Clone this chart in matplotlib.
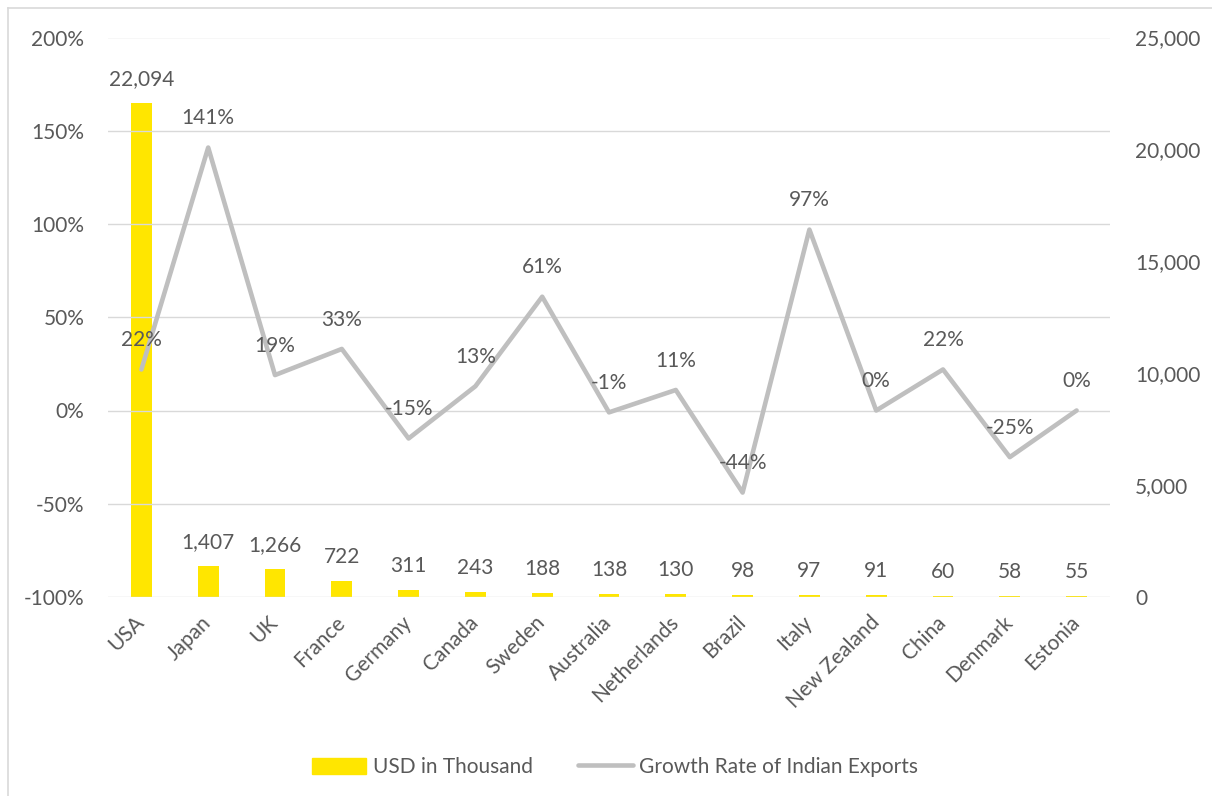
import matplotlib
matplotlib.use("Agg")
import matplotlib.pyplot as plt
from matplotlib.lines import Line2D
from matplotlib.ticker import FuncFormatter, MultipleLocator

plt.rcParams['font.family'] = ['Lato', 'DejaVu Sans']

countries = ["USA", "Japan", "UK", "France", "Germany", "Canada", "Sweden",
             "Australia", "Netherlands", "Brazil", "Italy", "New Zealand",
             "China", "Denmark", "Estonia"]
usd_thousand = [22094, 1407, 1266, 722, 311, 243, 188, 138, 130, 98, 97, 91,
                60, 58, 55]
growth_pct = [22, 141, 19, 33, -15, 13, 61, -1, 11, -44, 97, 0, 22, -25, 0]

TEXT = "#595959"
BAR = "#FFE600"
LINE = "#BFBFBF"
GRID = "#D9D9D9"
FS = 15

fig = plt.figure(figsize=(12.12, 7.96), dpi=100)
W, H = 1212, 796
ax = fig.add_axes([108 / W, 1 - 597 / H, (1110 - 108) / W, (597 - 37.5) / H])
ax2 = ax.twinx()

x = list(range(len(countries)))

# Growth rate line on the left (percentage) axis
ax.plot(x, growth_pct, color=LINE, lw=3.3, solid_joinstyle='round',
        solid_capstyle='round', zorder=3)
ax.set_ylim(-100, 200)
ax.yaxis.set_major_locator(MultipleLocator(50))
ax.yaxis.set_major_formatter(FuncFormatter(lambda v, p: f"{v:.0f}%"))
ax.set_xlim(-0.5, len(countries) - 0.5)
ax.grid(axis='y', color=GRID, lw=1.0)
ax.set_axisbelow(True)

# Export value bars on the right (USD thousand) axis
ax2.bar(x, usd_thousand, width=0.31, color=BAR, zorder=2)
ax2.set_ylim(0, 25000)
ax2.yaxis.set_major_locator(MultipleLocator(5000))
ax2.yaxis.set_major_formatter(FuncFormatter(lambda v, p: f"{v:,.0f}"))

# keep the line drawn above the bars
ax.set_zorder(ax2.get_zorder() + 1)
ax.patch.set_visible(False)

for a in (ax, ax2):
    for s in a.spines.values():
        s.set_visible(False)
    a.tick_params(length=0, labelsize=FS, labelcolor=TEXT)
ax.tick_params(axis='y', pad=17)
ax2.tick_params(axis='y', pad=18)

ax.set_xticks(x)
ax.set_xticklabels(countries, rotation=45, ha='right', va='center',
                   rotation_mode='anchor')
ax.tick_params(axis='x', pad=16)

for xi, v in zip(x, usd_thousand):
    ax2.annotate(f"{v:,}", (xi, v), xytext=(0, 10), textcoords='offset points',
                 ha='center', va='bottom', fontsize=FS, color=TEXT)
for xi, g in zip(x, growth_pct):
    ax.annotate(f"{g}%", (xi, g), xytext=(0, 14), textcoords='offset points',
                ha='center', va='bottom', fontsize=FS, color=TEXT, zorder=5)

handles = [plt.Rectangle((0, 0), 1, 1, color=BAR),
           Line2D([0], [0], color=LINE, lw=3.3, solid_capstyle='round')]
fig.legend(handles, ["USD in Thousand", "Growth Rate of Indian Exports"],
           loc='center', bbox_to_anchor=(615 / W, 1 - 767 / H), ncol=2,
           frameon=False, fontsize=FS, labelcolor=TEXT, handlelength=2.6,
           handleheight=0.8, handletextpad=0.3, columnspacing=2.2)

# outer chart frame
fig.add_artist(Line2D([7.5 / W, 7.5 / W], [0, 1 - 7.5 / H], color=GRID, lw=1.2,
                      transform=fig.transFigure))
fig.add_artist(Line2D([7.5 / W, 1], [1 - 7.5 / H, 1 - 7.5 / H], color=GRID,
                      lw=1.2, transform=fig.transFigure))

fig.savefig("out.png", dpi=100, facecolor="white")
